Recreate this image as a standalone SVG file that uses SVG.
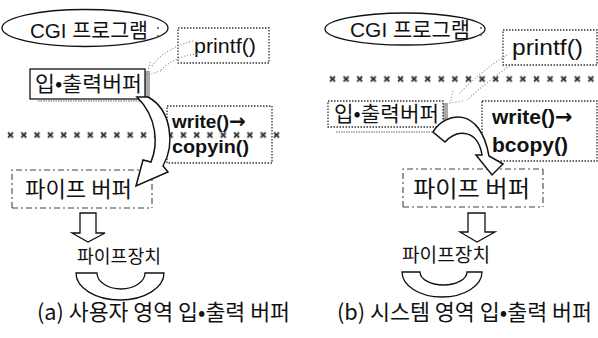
<svg xmlns="http://www.w3.org/2000/svg" width="598" height="338" viewBox="0 0 598 338">
<style>
text{font-family:"Liberation Sans","Noto Sans CJK KR",sans-serif;fill:#111}
.ko{font-family:"Noto Sans CJK KR","Liberation Sans",sans-serif}
.b{font-weight:bold}
.arr{font-family:"DejaVu Sans",sans-serif;font-weight:bold}
.solid{fill:#fff;stroke:#111;stroke-width:1.3}
.dot{fill:none;stroke:#333;stroke-width:1.3;stroke-dasharray:1.5 1.5}
.dotw{fill:#fff;stroke:#333;stroke-width:1.3;stroke-dasharray:1.5 1.5}
.dash{fill:none;stroke:#444;stroke-width:1.1;stroke-dasharray:6 3 2 3}
.arrow{fill:#fff;stroke:#111;stroke-width:1.5;stroke-linejoin:miter}
.faint{fill:none;stroke:#888;stroke-width:1.1;stroke-dasharray:1 2}
.shadow{fill:#aaa}
</style>
<defs>
<pattern id="xm" width="13.3" height="7" patternUnits="userSpaceOnUse" x="7" y="131.5">
<path d="M1 1 L6 6 M6 1 L1 6" stroke="#333" stroke-width="1.8"/>
</pattern>
<pattern id="xm2" width="13.6" height="7" patternUnits="userSpaceOnUse" x="329" y="75.5">
<path d="M1 1 L6 6 M6 1 L1 6" stroke="#333" stroke-width="1.8"/>
</pattern>
</defs>

<!-- ===== panel (a) ===== -->
<g id="a-cgi">
<ellipse cx="85" cy="28" rx="83" ry="18.5" class="solid"/>
<text x="30" y="38" font-size="20.5" textLength="118" lengthAdjust="spacingAndGlyphs">CGI 프로그램</text>
<circle cx="158" cy="28" r="1" fill="#555"/><circle cx="158" cy="36" r="1" fill="#555"/>
</g>
<g id="a-printf">
<rect x="178" y="28" width="91" height="35" class="dotw"/>
<text x="194" y="53" font-size="20" textLength="62" lengthAdjust="spacingAndGlyphs">printf()</text>
</g>
<g id="a-iobuf">
<rect x="145" y="71" width="5" height="30" class="shadow"/>
<line x1="38" y1="101" x2="145" y2="101" stroke="#999" stroke-width="1.5" stroke-dasharray="1.5 1"/>
<rect x="30" y="69" width="115" height="30" class="solid"/>
<text x="35" y="91" font-size="21" textLength="107" lengthAdjust="spacingAndGlyphs" class="ko">입•출력버퍼</text>
</g>
<g id="a-write">
<rect x="167" y="106" width="105" height="57" class="dot"/>
<text x="172" y="128" font-size="19" class="b">write()<tspan class="arr" font-size="20">→</tspan></text>
<text x="172" y="153" font-size="19" class="b" textLength="77" lengthAdjust="spacingAndGlyphs">copyin()</text>
</g>
<g id="a-pipebuf">
<path d="M12 208 L12 170 L152 170 M12 208 L152 208 M152 170 L152 208" class="dash"/>
<text x="25" y="197" font-size="22" textLength="107" lengthAdjust="spacingAndGlyphs" class="ko">파이프 버퍼</text>
</g>
<g id="a-pipedev">
<text x="77" y="263" font-size="18.5" textLength="84" lengthAdjust="spacingAndGlyphs" class="ko">파이프장치</text>
<path d="M76 273 A44 27 0 0 0 164 273 L145 273 A24 16 0 0 1 97 273 Z" class="solid"/>
</g>
<text id="a-caption" x="37" y="320" font-size="21.5" textLength="253" lengthAdjust="spacingAndGlyphs" class="ko">(a) 사용자 영역 입•출력 버퍼</text>
<g id="a-boundary">
<rect x="7" y="131.5" width="278" height="7" fill="url(#xm)"/>
</g>

<!-- ===== panel (b) ===== -->
<g id="b-cgi">
<ellipse cx="405" cy="29" rx="80" ry="16" class="solid"/>
<text x="350" y="37" font-size="21" textLength="120" lengthAdjust="spacingAndGlyphs">CGI 프로그램</text>
<circle cx="481" cy="28" r="1" fill="#555"/><circle cx="481" cy="35" r="1" fill="#555"/>
</g>
<g id="b-printf">
<rect x="503" y="30" width="94" height="35" class="dotw"/>
<text x="512" y="55" font-size="22" textLength="71" lengthAdjust="spacingAndGlyphs">printf()</text>
</g>
<g id="b-iobuf">
<rect x="443" y="103" width="5" height="27" class="shadow"/>
<line x1="336" y1="132" x2="443" y2="132" stroke="#999" stroke-width="1.5" stroke-dasharray="1.5 1"/>
<rect x="328" y="101" width="115" height="26" class="dotw"/>
<text x="334" y="121" font-size="21" textLength="105" lengthAdjust="spacingAndGlyphs" class="ko">입•출력버퍼</text>
</g>
<g id="b-write">
<rect x="482" y="101" width="115" height="60" class="dotw"/>
<text x="492" y="124" font-size="21" class="b">write()<tspan class="arr" font-size="21">→</tspan></text>
<text x="492" y="152" font-size="21" class="b" textLength="76" lengthAdjust="spacingAndGlyphs">bcopy()</text>
</g>
<g id="b-pipebuf">
<path d="M403 207 L403 169 L543 169 M403 207 L543 207 M543 169 L543 207" class="dash"/>
<text x="413" y="197" font-size="22.5" textLength="117" lengthAdjust="spacingAndGlyphs" class="ko">파이프 버퍼</text>
</g>
<g id="b-pipedev">
<text x="402" y="262" font-size="19" textLength="88" lengthAdjust="spacingAndGlyphs" class="ko">파이프장치</text>
<path d="M402 272 A40 25 0 0 0 482 272 L467 272 A23.5 13 0 0 1 420 272 Z" class="solid"/>
</g>
<text id="b-caption" x="337" y="320" font-size="21.5" textLength="255" lengthAdjust="spacingAndGlyphs" class="ko">(b) 시스템 영역 입•출력 버퍼</text>
<g id="b-boundary">
<rect x="329" y="75.5" width="269" height="7" fill="url(#xm2)"/>
</g>

<!-- ===== connectors ===== -->
<g id="connectors">
<!-- (a) printf -> io buffer, faint stippled -->
<path d="M193 41 C178 44 160 54 152 66 M197 54 C182 55 168 62 160 71 M150 62 L147 75 L161 71" class="faint"/>
<!-- (a) io buffer -> pipe buffer (write/copyin) -->
<path d="M137 97 L148 97 C172 110 175 145 163 166 L168 172 L136 186 L143 160 L151 162 C158 145 158 118 137 97 Z" class="arrow"/>
<!-- (a) pipe buffer -> pipe device -->
<path d="M80 213 L96 213 L96 233 L105 233 L88 242 L72 233 L80 233 Z" class="solid"/>
<!-- (b) printf -> io buffer, faint stippled -->
<path d="M507 55 C490 65 472 80 459 94 M512 64 C496 75 480 88 467 100 M453 91 L450 103 L463 101" class="faint"/>
<!-- (b) io buffer -> pipe buffer (write/bcopy) -->
<path d="M433 132 C445 112 480 105 489 156 L503 164 L492 175 L476 155 L482 155 C478 130 458 128 445 142 Z" class="arrow"/>
<!-- (b) pipe buffer -> pipe device -->
<path d="M468 213 L485 213 L485 232 L495 232 L477 242 L460 232 L468 232 Z" class="solid"/>
</g>
</svg>
